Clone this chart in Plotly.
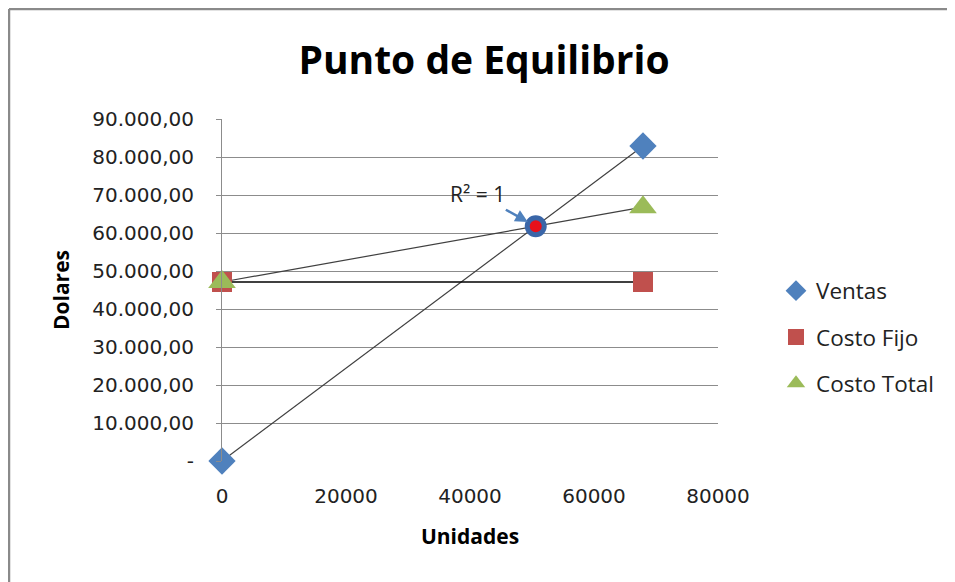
import plotly.graph_objects as go

# Data
unidades = [0, 67900]
ventas = [0, 82900]
costo_fijo = [47100, 47100]
costo_total = [47100, 66800]

y_tickvals = [0, 10000, 20000, 30000, 40000, 50000, 60000, 70000, 80000, 90000]
y_ticktext = ["-", "10.000,00", "20.000,00", "30.000,00", "40.000,00", "50.000,00",
              "60.000,00", "70.000,00", "80.000,00", "90.000,00"]
x_tickvals = [0, 20000, 40000, 60000, 80000]

# Break-even point (intersection of Ventas and Costo Total)
m_v = (ventas[1] - ventas[0]) / (unidades[1] - unidades[0])
m_t = (costo_total[1] - costo_total[0]) / (unidades[1] - unidades[0])
be_x = (costo_total[0] - ventas[0]) / (m_v - m_t)
be_y = ventas[0] + m_v * be_x

BLUE = "#4F81BD"
RED = "#C0504D"
GREEN = "#9BBB59"
LINE = "#404040"
GRID = "#8C8C8C"
FONT = "Open Sans"
TFONT = "DejaVu Sans"

W, H = 947, 574
L, T, PW, PH = 214, 111, 496, 342

fig = go.Figure()

# trendlines
fig.add_trace(go.Scatter(x=unidades, y=ventas, mode="lines", cliponaxis=False,
                         line=dict(color=LINE, width=1.2), showlegend=False, hoverinfo="skip"))
fig.add_trace(go.Scatter(x=unidades, y=costo_total, mode="lines", cliponaxis=False,
                         line=dict(color=LINE, width=1.2), showlegend=False, hoverinfo="skip"))
fig.add_trace(go.Scatter(x=unidades, y=costo_fijo, mode="lines", cliponaxis=False,
                         line=dict(color="#000000", width=1.4), showlegend=False, hoverinfo="skip"))

# markers
fig.add_trace(go.Scatter(x=unidades, y=ventas, mode="markers", name="Ventas",
                         legendgroup="a", cliponaxis=False,
                         marker=dict(symbol="diamond", size=21, color=BLUE)))
fig.add_trace(go.Scatter(x=unidades, y=costo_fijo, mode="markers", name="Costo Fijo",
                         legendgroup="b", cliponaxis=False,
                         marker=dict(symbol="square", size=20, color=RED)))
fig.add_trace(go.Scatter(x=unidades, y=costo_total, mode="markers", name="Costo Total",
                         legendgroup="c", cliponaxis=False,
                         marker=dict(symbol="triangle-up", size=24, color=GREEN)))

# break-even point
fig.add_trace(go.Scatter(x=[be_x], y=[be_y], mode="markers", showlegend=False, hoverinfo="skip",
                         cliponaxis=False,
                         marker=dict(symbol="circle", size=17, color="#E8101A",
                                     line=dict(color="#3A66A8", width=5))))

fig.add_annotation(x=be_x, y=be_y, text="R² = 1", showarrow=True,
                   ax=-58, ay=-32, arrowhead=2, arrowsize=1, arrowwidth=2.5,
                   arrowcolor=BLUE, standoff=9,
                   font=dict(family=FONT, size=21, color="#222222"))

fig.update_layout(
    width=W, height=H, autosize=False,
    paper_bgcolor="white", plot_bgcolor="white",
    margin=dict(l=L, r=W - L - PW, t=T, b=H - T - PH),
    title=dict(text="<b>Punto de Equilibrio</b>", x=(484 - 8 - L) / PW, xanchor="center",
               xref="paper", y=1 - 52 / H, yanchor="middle", yref="container",
               font=dict(family=FONT, size=39, color="#000000")),
    font=dict(family=FONT, color="#222222"),
    legend=dict(x=(768 - L) / PW, y=(461 - 337) / PH, xanchor="left", yanchor="middle",
                font=dict(family=FONT, size=22.5, color="#222222"),
                tracegroupgap=14, itemsizing="trace", bgcolor="rgba(0,0,0,0)"),
    showlegend=True,
)

fig.update_xaxes(range=[0, 80000], tickvals=x_tickvals, ticktext=[str(v) for v in x_tickvals],
                 showgrid=False, zeroline=False, showline=False,
                 ticks="", ticklabelstandoff=21,
                 tickfont=dict(family=TFONT, size=20, color="#222222"),
                 title=dict(text="<b>Unidades</b>", font=dict(family=FONT, size=21, color="#000000"),
                            standoff=22))
fig.update_yaxes(range=[0, 90000], tickvals=y_tickvals, ticktext=y_ticktext,
                 showgrid=True, gridcolor=GRID, gridwidth=1, zeroline=False,
                 showline=True, linecolor=GRID, linewidth=1,
                 ticks="outside", ticklen=5, tickcolor=GRID, ticklabelstandoff=18,
                 tickfont=dict(family=TFONT, size=20, color="#222222"),
                 title=dict(text="<b>Dolares</b>", font=dict(family=FONT, size=21, color="#000000"),
                            standoff=16))

# outer frame (left and top edges of the chart area)
fx = (1 - L) / PW
fy = (T + PH - 1) / PH
fig.add_shape(type="line", xref="paper", yref="paper",
              x0=fx, x1=fx, y0=(T + PH - H) / PH, y1=fy,
              line=dict(color="#8A8A8A", width=2.5))
fig.add_shape(type="line", xref="paper", yref="paper",
              x0=fx, x1=(W - L) / PW, y0=fy, y1=fy,
              line=dict(color="#8A8A8A", width=2.5))

fig.write_html("out.html")
